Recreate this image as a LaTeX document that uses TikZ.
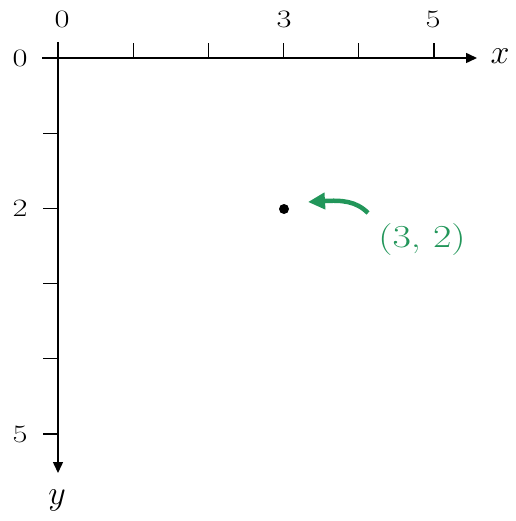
\documentclass[tikz,border=0pt]{standalone}
\usepackage{fix-cm}
\usepackage{fontspec}
\usetikzlibrary{arrows.meta}
\definecolor{grn}{RGB}{34,150,90}
\newcommand{\wide}[2]{\scalebox{#1}[1]{#2}}
\begin{document}
\begin{tikzpicture}[x=1pt,y=-1pt,
  axis/.style={line width=1.5pt,-{Triangle[length=11pt,width=10pt]}},
  tickline/.style={line width=1.2pt},
  ticklab/.style={font=\fontsize{25}{30}\selectfont},
  axlab/.style={font=\fontsize{34}{40}\selectfont},
  ptlab/.style={font=\fontsize{32}{38}\selectfont, text=grn}]
\useasboundingbox (0,0) rectangle (515,521);
\coordinate (O) at (58,58);
\coordinate (xs) at (42,58);
\coordinate (xe) at (477,58);
\coordinate (ys) at (58,42);
\coordinate (ye) at (58,473);
\draw[axis] (xs) -- (xe);
\draw[axis] (ys) -- (ye);
\foreach \i in {1,...,5} {
  \draw[tickline] ({58+75.2*\i},58) -- ({58+75.2*\i},43);
  \draw[tickline] (58,{58+75.2*\i}) -- (43,{58+75.2*\i});
}
\node[ticklab] (x0) at (62,19) {\wide{1.3}{0}};
\node[ticklab] (x3) at (284,19) {\wide{1.3}{3}};
\node[ticklab] (x5) at (433,19) {\wide{1.3}{5}};
\node[ticklab] (y0) at (20,58) {\wide{1.3}{0}};
\node[ticklab] (y2) at (20,208) {\wide{1.3}{2}};
\node[ticklab] (y5) at (20,434) {\wide{1.3}{5}};
\node[axlab] (xl) at (500,56) {$x$};
\node[axlab] (yl) at (57,500) {$y$};
\node[circle,fill=black,inner sep=0pt,minimum size=10pt] (pt) at (284,209) {};
\node[ptlab] (lab) at (422,240) {\wide{1.25}{(3, 2)}};
\coordinate (as) at (368,213);
\coordinate (ae) at (308,202);
\draw[grn,line width=4.5pt,-{Triangle[length=17pt,width=16pt]}] (as) .. controls (356,201) and (342,200) .. (ae);
\end{tikzpicture}
\end{document}
